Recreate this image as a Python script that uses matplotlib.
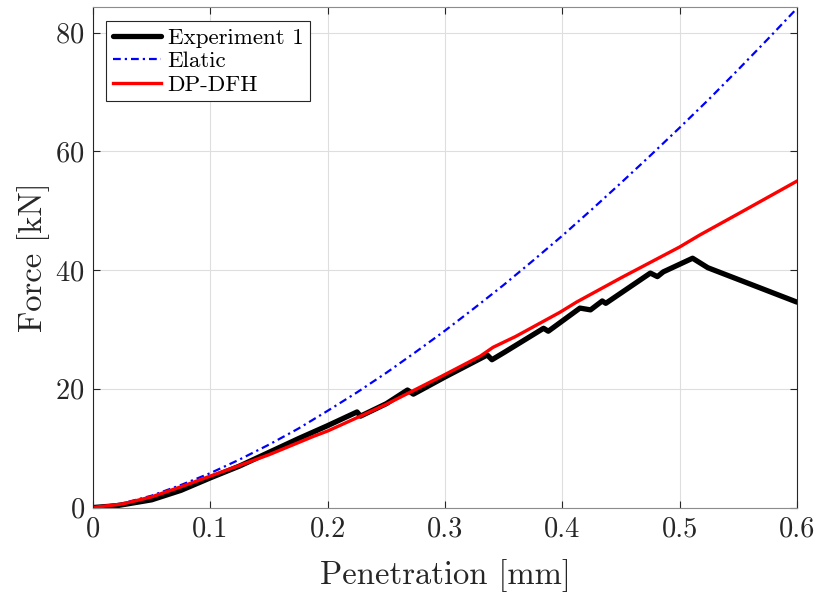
import matplotlib
matplotlib.use("Agg")
import matplotlib.pyplot as plt

plt.rcParams['font.family'] = ['cmr10', 'DejaVu Serif']
plt.rcParams['axes.formatter.use_mathtext'] = True
plt.rcParams['mathtext.fontset'] = 'cm'

# Experiment 1 (black)
exp_x = [0, 0.02, 0.05, 0.075, 0.1, 0.125, 0.15, 0.175, 0.2, 0.225, 0.228, 0.25,
         0.268, 0.273, 0.3, 0.336, 0.340, 0.351, 0.384, 0.388, 0.415, 0.424, 0.434,
         0.437, 0.475, 0.481, 0.486, 0.511, 0.524, 0.6]
exp_f = [0, 0.3, 1.3, 2.9, 5.0, 7.0, 9.3, 11.6, 13.8, 16.1, 15.4, 17.5,
         19.8, 19.1, 22.0, 25.7, 24.9, 26.2, 30.2, 29.7, 33.6, 33.3, 34.8,
         34.4, 39.5, 38.9, 39.7, 42.0, 40.4, 34.6]

# Elastic (blue)
ela_x = [0, 0.025, 0.05, 0.075, 0.1, 0.125, 0.15, 0.175, 0.2, 0.225, 0.25, 0.275,
         0.3, 0.325, 0.35, 0.375, 0.4, 0.425, 0.45, 0.475, 0.5, 0.525, 0.55, 0.575, 0.6]
ela_f = [0, 0.7, 2.0, 3.8, 5.8, 8.1, 10.6, 13.3, 16.3, 19.4, 22.7, 26.2,
         29.8, 33.6, 37.5, 41.6, 45.8, 50.2, 54.7, 59.3, 64.0, 68.8, 73.8, 78.9, 84.1]

# DP-DFH (red)
dp_x = [0, 0.025, 0.05, 0.075, 0.1, 0.15, 0.188, 0.2, 0.228, 0.25, 0.296, 0.33,
        0.341, 0.36, 0.398, 0.412, 0.45, 0.5, 0.517, 0.55, 0.6]
dp_f = [0, 0.6, 1.8, 3.5, 5.3, 8.9, 12.0, 12.9, 15.4, 17.4, 22.0, 25.5,
        27.0, 28.8, 32.9, 34.6, 38.7, 43.9, 45.9, 49.5, 55.0]

fig = plt.figure(figsize=(8.21, 5.95), dpi=100)
ax = fig.add_axes([0.1133, 0.147, 0.8575, 0.841])

ax.plot(exp_x, exp_f, color='black', linewidth=3.8, label='Experiment 1',
        solid_joinstyle='round', solid_capstyle='round')
ax.plot(ela_x, ela_f, color='blue', linestyle=(0, (3.5, 1.8, 1, 1.8)), linewidth=1.6,
        label='Elatic')
ax.plot(dp_x, dp_f, color='red', linewidth=2.4, label='DP-DFH')

ax.set_xlim(0, 0.6)
ax.set_ylim(0, 84.3)
ax.set_xticks([0, 0.1, 0.2, 0.3, 0.4, 0.5, 0.6])
ax.set_xticklabels(['0', '0.1', '0.2', '0.3', '0.4', '0.5', '0.6'])
ax.set_yticks([0, 20, 40, 60, 80])
ax.grid(True, color='#dedede', linewidth=0.8)
ax.set_axisbelow(True)
ax.tick_params(direction='in', top=True, right=True, length=5, width=0.8,
               labelsize=20.5, colors='#262626', pad=6)
for s in ['left', 'right']:
    ax.spines[s].set_color('#262626')
for s in ['top', 'bottom']:
    ax.spines[s].set_color('#8c8c8c')

ax.set_xlabel('Penetration [mm]', fontsize=23.5, color='#262626', labelpad=12)
ax.set_ylabel('Force [kN]', fontsize=23.5, color='#262626', labelpad=4)

leg = ax.legend(loc='upper left', bbox_to_anchor=(0.018, 0.973), fontsize=16.5,
                handlelength=2.1, borderaxespad=0, fancybox=False, framealpha=1,
                borderpad=0.3, labelspacing=0.15, handletextpad=0.3)
leg.get_frame().set_edgecolor('#262626')
leg.get_frame().set_linewidth(0.8)

fig.savefig('out.png', dpi=100)
